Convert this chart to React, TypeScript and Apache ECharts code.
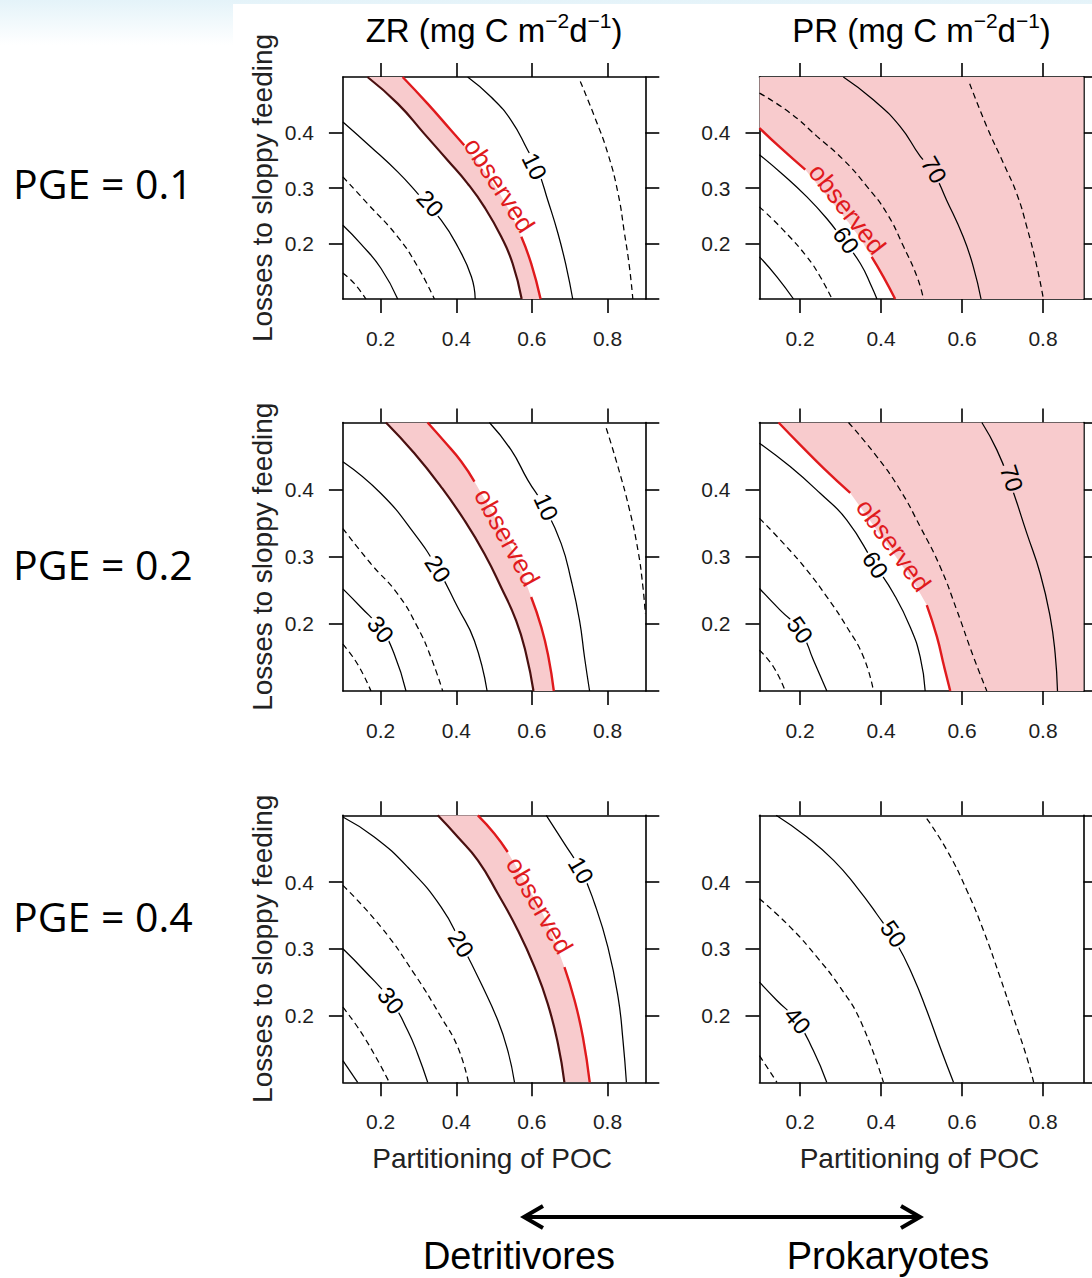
import React, { useEffect, useRef } from 'react';
import * as echarts from 'echarts';

type Pt = [number, number];
type Label = { x: number; y: number; text: string; angle: number };

// Axis ranges and tick values
const X_MIN = 0.1;
const X_MAX = 0.9;
const Y_MIN = 0.1;
const Y_MAX = 0.5;
const xTickValues = [0.2, 0.4, 0.6, 0.8];

// Texts
const columnTitles = ['ZR', 'PR'];
const rowTitles = ['PGE = 0.1', 'PGE = 0.2', 'PGE = 0.4'];
const xAxisTitle = 'Partitioning of POC';
const yAxisTitle = 'Losses to sloppy feeding';
const arrowEnds = ['Detritivores', 'Prokaryotes'];
const observedText = 'observed';

// ---------- ZR, PGE = 0.1 ----------
const zr1Solid: Pt[][] = [
  [[0.1, 0.233], [0.148, 0.199], [0.201, 0.155], [0.245, 0.1]],
  [[0.1, 0.419], [0.174, 0.374], [0.245, 0.329], [0.298, 0.29], [0.36, 0.242], [0.404, 0.194], [0.44, 0.14], [0.45, 0.1]],
  [[0.43, 0.5], [0.492, 0.464], [0.545, 0.422], [0.589, 0.368], [0.616, 0.332], [0.642, 0.278], [0.669, 0.218], [0.691, 0.158], [0.708, 0.1]],
];
const zr1Dashed: Pt[][] = [
  [[0.1, 0.147], [0.13, 0.128], [0.161, 0.1]],
  [[0.1, 0.32], [0.165, 0.272], [0.245, 0.212], [0.298, 0.158], [0.342, 0.1]],
  [[0.728, 0.492], [0.766, 0.428], [0.801, 0.362], [0.828, 0.29], [0.845, 0.218], [0.858, 0.158], [0.867, 0.1]],
];
const zr1Lower: Pt[] = [[0.165, 0.5], [0.245, 0.452], [0.315, 0.398], [0.377, 0.35], [0.43, 0.308], [0.474, 0.266], [0.519, 0.212], [0.549, 0.164], [0.573, 0.1]];
const zr1Upper: Pt[] = [[0.258, 0.5], [0.324, 0.452], [0.386, 0.404], [0.421, 0.377], [0.466, 0.338], [0.51, 0.296], [0.545, 0.254], [0.572, 0.212], [0.598, 0.164], [0.623, 0.1]];
const zr1Gap: [number, number] = [3, 7];
const zr1Labels: Label[] = [
  { x: 0.331, y: 0.272, text: '20', angle: 48 },
  { x: 0.607, y: 0.339, text: '10', angle: 64 },
  { x: 0.514, y: 0.305, text: observedText, angle: 57 },
];

// ---------- PR, PGE = 0.1 ----------
const pr1Solid: Pt[][] = [
  [[0.1, 0.176], [0.143, 0.14], [0.184, 0.1]],
  [[0.1, 0.36], [0.159, 0.3235], [0.217, 0.284], [0.266, 0.245], [0.307, 0.206], [0.349, 0.164], [0.377, 0.122], [0.39, 0.1]],
  [[0.307, 0.5], [0.381, 0.459], [0.447, 0.411], [0.497, 0.357], [0.526, 0.333], [0.562, 0.278], [0.603, 0.212], [0.628, 0.158], [0.647, 0.1]],
];
const pr1Dashed: Pt[][] = [
  [[0.1, 0.266], [0.159, 0.224], [0.217, 0.176], [0.25, 0.14], [0.279, 0.1]],
  [[0.1, 0.471], [0.176, 0.435], [0.242, 0.393], [0.307, 0.351], [0.365, 0.303], [0.414, 0.255], [0.456, 0.194], [0.489, 0.14], [0.505, 0.1]],
  [[0.619, 0.488], [0.661, 0.411], [0.702, 0.345], [0.735, 0.29], [0.76, 0.23], [0.785, 0.158], [0.801, 0.1]],
];
const pr1Red: Pt[] = [[0.1, 0.408], [0.151, 0.373], [0.213, 0.333], [0.258, 0.293], [0.299, 0.257], [0.34, 0.218], [0.377, 0.176], [0.406, 0.14], [0.435, 0.1]];
const pr1Gap: [number, number] = [2, 6];
const pr1Labels: Label[] = [
  { x: 0.314, y: 0.206, text: '60', angle: 55 },
  { x: 0.531, y: 0.333, text: '70', angle: 60 },
  { x: 0.317, y: 0.262, text: observedText, angle: 52 },
];

// ---------- ZR, PGE = 0.2 ----------
const zr2Solid: Pt[][] = [
  [[0.1, 0.2521], [0.1477, 0.2247], [0.2007, 0.1923], [0.236, 0.1549], [0.2669, 0.1]],
  [[0.1, 0.4416], [0.2007, 0.3943], [0.289, 0.3344], [0.3508, 0.282], [0.4037, 0.2247], [0.4479, 0.1748], [0.4815, 0.1]],
  [[0.4876, 0.5], [0.545, 0.4591], [0.5892, 0.4142], [0.6333, 0.3743], [0.6775, 0.3195], [0.704, 0.2646], [0.7261, 0.2047], [0.7393, 0.1499], [0.7526, 0.1]],
];
const zr2Dashed: Pt[][] = [
  [[0.1, 0.1698], [0.1389, 0.1399], [0.1742, 0.1]],
  [[0.1, 0.3419], [0.1742, 0.2895], [0.2448, 0.2446], [0.2978, 0.1948], [0.3331, 0.1499], [0.364, 0.1]],
  [[0.7967, 0.4915], [0.8276, 0.4342], [0.8585, 0.3693], [0.8806, 0.3095], [0.8938, 0.2546], [0.9, 0.2147]],
];
const zr2Lower: Pt[] = [[0.2139, 0.5], [0.289, 0.4541], [0.3596, 0.4042], [0.4214, 0.3544], [0.4744, 0.3045], [0.5185, 0.2546], [0.5583, 0.2047], [0.5848, 0.1549], [0.6042, 0.1]];
const zr2Upper: Pt[] = [[0.324, 0.5], [0.368, 0.472], [0.413, 0.442], [0.448, 0.412], [0.492, 0.369], [0.536, 0.324], [0.572, 0.28], [0.598, 0.24], [0.625, 0.195], [0.644, 0.15], [0.658, 0.1]];
const zr2Gap: [number, number] = [3, 7];
const zr2Labels: Label[] = [
  { x: 0.2, y: 0.192, text: '30', angle: 52 },
  { x: 0.351, y: 0.282, text: '20', angle: 57 },
  { x: 0.638, y: 0.374, text: '10', angle: 66 },
  { x: 0.534, y: 0.329, text: observedText, angle: 61 },
];

// ---------- PR, PGE = 0.2 ----------
const pr2Solid: Pt[][] = [
  [[0.1, 0.2527], [0.151, 0.2204], [0.2004, 0.1905], [0.2333, 0.1458], [0.2663, 0.1]],
  [[0.1, 0.4692], [0.1757, 0.4343], [0.2498, 0.3945], [0.3156, 0.3547], [0.3856, 0.2876], [0.4309, 0.2453], [0.472, 0.1955], [0.4967, 0.1507], [0.5091, 0.1]],
  [[0.649, 0.5], [0.686, 0.4592], [0.7189, 0.4095], [0.7601, 0.3348], [0.793, 0.2751], [0.8177, 0.2104], [0.83, 0.1557], [0.8358, 0.1]],
];
const pr2Dashed: Pt[][] = [
  [[0.1, 0.1607], [0.1346, 0.1358], [0.1634, 0.1]],
  [[0.1, 0.3572], [0.1593, 0.3199], [0.2169, 0.2801], [0.2663, 0.2403], [0.3156, 0.1955], [0.3568, 0.1507], [0.3815, 0.1]],
  [[0.3198, 0.5], [0.3897, 0.4493], [0.4473, 0.3995], [0.4967, 0.3448], [0.5461, 0.2851], [0.5872, 0.2204], [0.6284, 0.1507], [0.6613, 0.1]],
];
const pr2Red: Pt[] = [[0.147, 0.5], [0.2, 0.467], [0.258, 0.432], [0.324, 0.395], [0.381, 0.347], [0.431, 0.305], [0.48, 0.263], [0.513, 0.228], [0.538, 0.181], [0.556, 0.136], [0.571, 0.1]];
const pr2Gap: [number, number] = [3, 7];
const pr2Labels: Label[] = [
  { x: 0.2, y: 0.191, text: '50', angle: 55 },
  { x: 0.386, y: 0.288, text: '60', angle: 57 },
  { x: 0.723, y: 0.417, text: '70', angle: 72 },
  { x: 0.431, y: 0.317, text: observedText, angle: 54 },
];

// ---------- ZR, PGE = 0.4 ----------
const zr3Solid: Pt[][] = [
  [[0.1, 0.1325], [0.139, 0.1]],
  [[0.1, 0.3], [0.1565, 0.2675], [0.2272, 0.2225], [0.2713, 0.1775], [0.2978, 0.1425], [0.3243, 0.1]],
  [[0.1, 0.4975], [0.183, 0.4675], [0.271, 0.4225], [0.36, 0.3625], [0.413, 0.3075], [0.466, 0.2475], [0.51, 0.1925], [0.5362, 0.1475], [0.554, 0.1]],
  [[0.638, 0.5], [0.686, 0.4575], [0.73, 0.4175], [0.766, 0.3675], [0.801, 0.3025], [0.828, 0.2275], [0.841, 0.1625], [0.85, 0.1]],
];
const zr3Dashed: Pt[][] = [
  [[0.1, 0.2125], [0.1565, 0.1675], [0.2227, 0.1]],
  [[0.1, 0.395], [0.201, 0.3325], [0.289, 0.2625], [0.36, 0.1975], [0.404, 0.1525], [0.432, 0.1]],
];
const zr3Lower: Pt[] = [[0.351, 0.5], [0.404, 0.4675], [0.457, 0.4325], [0.51, 0.3825], [0.563, 0.3275], [0.607, 0.2725], [0.642, 0.2175], [0.669, 0.1575], [0.686, 0.1]];
const zr3Upper: Pt[] = [[0.457, 0.5], [0.501, 0.4725], [0.536, 0.445], [0.58, 0.4025], [0.625, 0.3575], [0.66, 0.3125], [0.686, 0.2725], [0.713, 0.2225], [0.735, 0.1675], [0.753, 0.1]];
const zr3Gap: [number, number] = [2, 6];
const zr3Labels: Label[] = [
  { x: 0.227, y: 0.2225, text: '30', angle: 52 },
  { x: 0.413, y: 0.3075, text: '20', angle: 57 },
  { x: 0.73, y: 0.4175, text: '10', angle: 60 },
  { x: 0.62, y: 0.365, text: observedText, angle: 60 },
];

// ---------- PR, PGE = 0.4 ----------
const pr3Solid: Pt[][] = [
  [[0.1, 0.25], [0.143, 0.2225], [0.192, 0.1925], [0.233, 0.1475], [0.266, 0.1]],
  [[0.141, 0.5], [0.217, 0.4675], [0.283, 0.4325], [0.34, 0.3925], [0.389, 0.3525], [0.439, 0.3075], [0.48, 0.2575], [0.513, 0.2075], [0.546, 0.1525], [0.579, 0.1]],
];
const pr3Dashed: Pt[][] = [
  [[0.1, 0.14], [0.143, 0.1]],
  [[0.1, 0.375], [0.176, 0.3325], [0.242, 0.2875], [0.299, 0.2425], [0.349, 0.1925], [0.406, 0.1]],
  [[0.513, 0.495], [0.563, 0.4475], [0.612, 0.3875], [0.653, 0.3275], [0.694, 0.2575], [0.727, 0.1975], [0.76, 0.1375], [0.777, 0.1]],
];
const pr3Labels: Label[] = [
  { x: 0.194, y: 0.1925, text: '40', angle: 50 },
  { x: 0.431, y: 0.3225, text: '50', angle: 55 },
];

type Panel = {
  solid: Pt[][];
  dashed: Pt[][];
  lower?: Pt[];
  red?: Pt[];
  gap?: [number, number];
  labels: Label[];
  band: boolean; // true: shaded between lower and red; false: shaded beyond red
};

// Row-major: ZR / PR for each PGE
const panels: Panel[] = [
  { solid: zr1Solid, dashed: zr1Dashed, lower: zr1Lower, red: zr1Upper, gap: zr1Gap, labels: zr1Labels, band: true },
  { solid: pr1Solid, dashed: pr1Dashed, red: pr1Red, gap: pr1Gap, labels: pr1Labels, band: false },
  { solid: zr2Solid, dashed: zr2Dashed, lower: zr2Lower, red: zr2Upper, gap: zr2Gap, labels: zr2Labels, band: true },
  { solid: pr2Solid, dashed: pr2Dashed, red: pr2Red, gap: pr2Gap, labels: pr2Labels, band: false },
  { solid: zr3Solid, dashed: zr3Dashed, lower: zr3Lower, red: zr3Upper, gap: zr3Gap, labels: zr3Labels, band: true },
  { solid: pr3Solid, dashed: pr3Dashed, labels: pr3Labels, band: false },
];

// Layout
const W = 1092;
const H = 1278;
const COL_LEFT = [342.9, 759.5];
const COL_WIDTH = [302.4, 324];
const ROW_TOP = [77, 422.5, 815.3];
const ROW_HEIGHT = [222, 268.5, 267];
const ROW_TITLE_Y = [183, 564, 916];

const FONT = '"Liberation Sans", Arial, Helvetica, sans-serif';
const PINK = '#f8cbcd';
const RED = '#e01a1d';
const DARK_RED = '#4a1010';
const AXIS = { color: '#000', width: 1.6 };

function fillPolygon(p: Panel): Pt[] | null {
  if (!p.red) return null;
  if (p.band && p.lower) return [...p.lower, ...p.red.slice().reverse()];
  const poly: Pt[] = [...p.red, [X_MAX, Y_MIN], [X_MAX, Y_MAX]];
  if (p.red[0][1] < Y_MAX) poly.push([X_MIN, Y_MAX]);
  return poly;
}

function insidePolygon(pt: Pt, poly: Pt[]): boolean {
  let c = false;
  for (let i = 0, j = poly.length - 1; i < poly.length; j = i++) {
    const [xi, yi] = poly[i];
    const [xj, yj] = poly[j];
    if (yi > pt[1] !== yj > pt[1] && pt[0] < ((xj - xi) * (pt[1] - yi)) / (yj - yi) + xi) c = !c;
  }
  return c;
}

function lineSeries(data: Pt[], axis: number, color: string, width: number, type: any, z: number) {
  return {
    type: 'line',
    xAxisIndex: axis,
    yAxisIndex: axis,
    data,
    showSymbol: false,
    symbol: 'none',
    smooth: 0.5,
    silent: true,
    clip: true,
    z,
    lineStyle: { color, width, type },
  };
}

function buildOption() {
  const grid: any[] = [];
  const xAxis: any[] = [];
  const yAxis: any[] = [];
  const series: any[] = [];
  const graphic: any[] = [];

  panels.forEach((p, i) => {
    const row = Math.floor(i / 2);
    const col = i % 2;
    grid.push({ left: COL_LEFT[col], top: ROW_TOP[row], width: COL_WIDTH[col], height: ROW_HEIGHT[row], show: false });

    const tick = { show: true, inside: false, length: 14, lineStyle: AXIS };
    const label = { fontSize: 21, color: '#1e1e1e', fontFamily: FONT };
    xAxis.push({
      gridIndex: i, type: 'value', min: X_MIN, max: X_MAX, position: 'bottom',
      axisLine: { show: true, onZero: false, lineStyle: AXIS },
      axisTick: { ...tick, customValues: xTickValues },
      axisLabel: { ...label, margin: 29, customValues: xTickValues, formatter: (v: number) => v.toFixed(1) },
      splitLine: { show: false },
    });
    xAxis.push({
      gridIndex: i, type: 'value', min: X_MIN, max: X_MAX, position: 'top',
      axisLine: { show: true, onZero: false, lineStyle: AXIS },
      axisTick: { ...tick, customValues: xTickValues },
      axisLabel: { show: false },
      splitLine: { show: false },
    });
    yAxis.push({
      gridIndex: i, type: 'value', min: Y_MIN, max: Y_MAX, interval: 0.1, position: 'left',
      axisLine: { show: true, onZero: false, lineStyle: AXIS },
      axisTick: tick,
      axisLabel: { ...label, margin: 29, showMinLabel: false, showMaxLabel: false, formatter: (v: number) => v.toFixed(1) },
      splitLine: { show: false },
    });
    yAxis.push({
      gridIndex: i, type: 'value', min: Y_MIN, max: Y_MAX, interval: 0.1, position: 'right',
      axisLine: { show: true, onZero: false, lineStyle: AXIS },
      axisTick: tick,
      axisLabel: { show: false },
      splitLine: { show: false },
    });

    const ax = 2 * i;
    const poly = fillPolygon(p);
    if (poly) {
      series.push({
        type: 'custom', xAxisIndex: ax, yAxisIndex: ax, data: poly, clip: true, silent: true, z: 1,
        renderItem: (params: any, api: any) => {
          if (params.dataIndex !== 0) return null;
          return { type: 'polygon', shape: { points: poly.map((q) => api.coord(q)) }, style: { fill: PINK } };
        },
      });
    }
    p.dashed.forEach((d) => series.push(lineSeries(d, ax, '#000', 1.25, [6, 4], 3)));
    p.solid.forEach((d) => series.push(lineSeries(d, ax, '#000', 1.25, 'solid', 3)));
    if (p.lower) series.push(lineSeries(p.lower, ax, DARK_RED, 2.2, 'solid', 4));
    if (p.red) {
      if (p.gap) {
        series.push(lineSeries(p.red.slice(0, p.gap[0] + 1), ax, RED, 2.4, 'solid', 4));
        series.push(lineSeries(p.red.slice(p.gap[1]), ax, RED, 2.4, 'solid', 4));
      } else {
        series.push(lineSeries(p.red, ax, RED, 2.4, 'solid', 4));
      }
    }
    const labels = p.labels;
    series.push({
      type: 'custom', xAxisIndex: ax, yAxisIndex: ax, data: labels.map((l) => [l.x, l.y]), silent: true, z: 6,
      renderItem: (params: any, api: any) => {
        const l = labels[params.dataIndex];
        const [px, py] = api.coord([l.x, l.y]);
        const isObserved = l.text === observedText;
        const bg = poly && insidePolygon([l.x, l.y], poly) ? PINK : '#ffffff';
        return {
          type: 'text', x: px, y: py, rotation: (-l.angle * Math.PI) / 180, z2: isObserved ? 10 : 5,
          style: {
            text: l.text, fontSize: isObserved ? 26 : 24, fontFamily: FONT, fill: isObserved ? RED : '#000',
            align: 'center', verticalAlign: 'middle',
            backgroundColor: isObserved ? 'transparent' : bg, padding: isObserved ? 0 : [0, 1],
          },
        };
      },
    });
  });

  // Background wash at the top-left and the white sheet
  graphic.push({
    type: 'rect', z: -10, silent: true, shape: { x: 0, y: 0, width: W, height: 45 },
    style: { fill: new echarts.graphic.LinearGradient(0, 0, 0, 1, [{ offset: 0, color: '#e4f3f9' }, { offset: 1, color: '#ffffff' }]) },
  });
  graphic.push({ type: 'rect', z: -9, silent: true, shape: { x: 233, y: 4, width: W - 233, height: 60 }, style: { fill: '#ffffff' } });

  // Column titles with superscript units
  columnTitles.forEach((t, c) => {
    graphic.push({
      type: 'text', x: COL_LEFT[c] + COL_WIDTH[c] / 2, y: 30,
      style: {
        text: `{m|${t} (mg C m}{s|\u22122}{m|d}{s|\u22121}{m|)}`,
        rich: {
          m: { fontSize: 33, fontFamily: FONT, fill: '#000', lineHeight: 40 },
          s: { fontSize: 21, fontFamily: FONT, fill: '#000', lineHeight: 14, verticalAlign: 'top' },
        },
        align: 'center', verticalAlign: 'middle',
      },
    });
  });

  // Row titles and y-axis titles
  rowTitles.forEach((t, r) => {
    const cy = ROW_TOP[r] + ROW_HEIGHT[r] / 2;
    graphic.push({
      type: 'text', x: 13, y: ROW_TITLE_Y[r],
      style: { text: t, fontSize: 41, fontFamily: '"Open Sans", sans-serif', fill: '#000', align: 'left', verticalAlign: 'middle' },
    });
    graphic.push({
      type: 'text', x: 262, y: cy, rotation: Math.PI / 2,
      style: { text: yAxisTitle, fontSize: 28, fontFamily: FONT, fill: '#222', align: 'center', verticalAlign: 'middle' },
    });
  });

  // x-axis titles under the bottom row
  [0, 1].forEach((c) => {
    graphic.push({
      type: 'text', x: COL_LEFT[c] + COL_WIDTH[c] / 2 - 2, y: 1158,
      style: { text: xAxisTitle, fontSize: 28, fontFamily: FONT, fill: '#222', align: 'center', verticalAlign: 'middle' },
    });
  });

  // Double-headed arrow with its two ends named
  const ay = 1217;
  const ax1 = 524;
  const ax2 = 920;
  graphic.push({ type: 'line', shape: { x1: ax1 + 2, y1: ay, x2: ax2 - 2, y2: ay }, style: { stroke: '#000', lineWidth: 4 } });
  graphic.push({ type: 'polyline', shape: { points: [[ax1 + 19, ay - 11], [ax1, ay], [ax1 + 19, ay + 11]] }, style: { stroke: '#000', lineWidth: 4, fill: null, lineJoin: 'miter' } });
  graphic.push({ type: 'polyline', shape: { points: [[ax2 - 19, ay - 11], [ax2, ay], [ax2 - 19, ay + 11]] }, style: { stroke: '#000', lineWidth: 4, fill: null, lineJoin: 'miter' } });
  graphic.push({ type: 'text', x: 519, y: 1256, style: { text: arrowEnds[0], fontSize: 38, fontFamily: FONT, fill: '#000', align: 'center', verticalAlign: 'middle' } });
  graphic.push({ type: 'text', x: 888, y: 1256, style: { text: arrowEnds[1], fontSize: 38, fontFamily: FONT, fill: '#000', align: 'center', verticalAlign: 'middle' } });

  return { animation: false, backgroundColor: '#ffffff', grid, xAxis, yAxis, series, graphic };
}

export default function App() {
  const ref = useRef<HTMLDivElement>(null);
  useEffect(() => {
    if (!ref.current) return;
    const chart = echarts.init(ref.current, undefined, { renderer: 'svg', width: W, height: H });
    chart.setOption(buildOption() as any);
    return () => chart.dispose();
  }, []);
  return <div ref={ref} style={{ position: 'absolute', left: 0, top: 0, width: W, height: H }} />;
}
